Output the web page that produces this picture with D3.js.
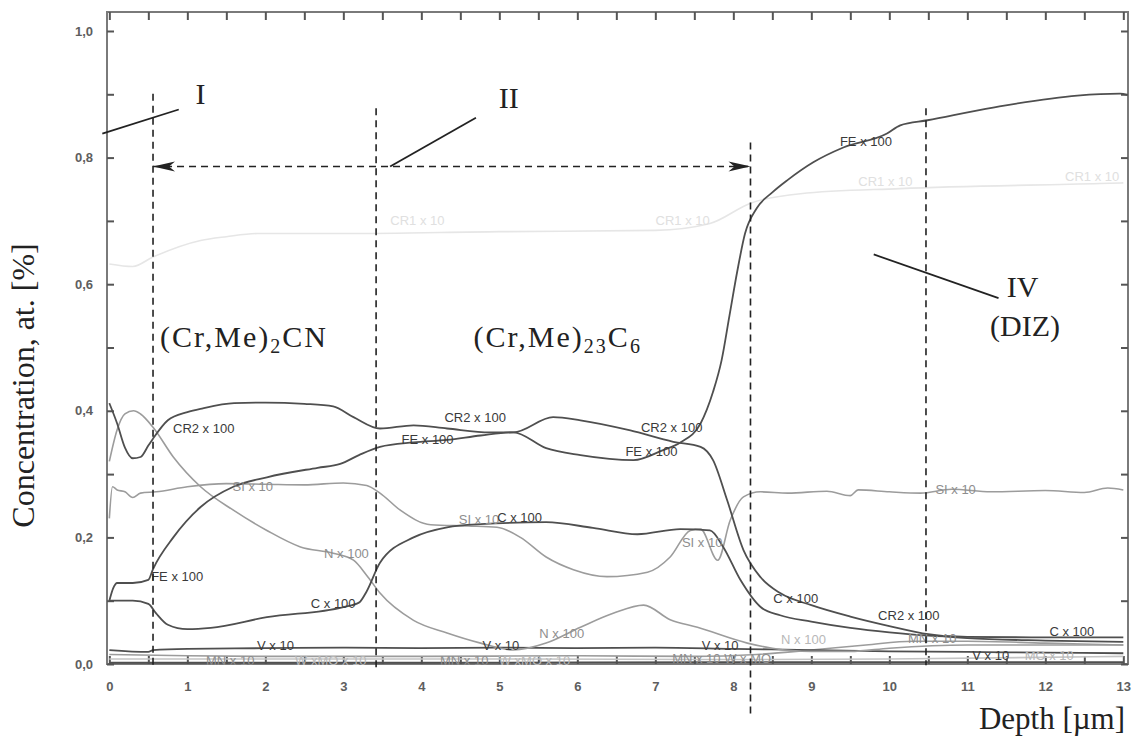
<!DOCTYPE html>
<html><head><meta charset="utf-8">
<script src="https://cdn.jsdelivr.net/npm/d3@7"></script>
<style>
body{margin:0;background:#fff;}
svg{display:block;}
</style></head>
<body>
<svg id="chart" width="1139" height="740"></svg>
<script>
// ---------- data (depth in µm, concentration) ----------
const xTicksLabels = ["0","1","2","3","4","5","6","7","8","9","10","11","12","13"];
const yTickLabels = ["0,0","0,2","0,4","0,6","0,8","1,0"];

const cr2 = [[0,0.412],[0.1,0.38],[0.2,0.342],[0.3,0.325],[0.4,0.327],[0.5,0.345],[0.56,0.356],[0.75,0.385],[1.0,0.398],[1.2,0.404],[1.6,0.412],[2.0,0.413],[2.5,0.411],[2.87,0.407],[3.13,0.39],[3.47,0.372],[3.9,0.377],[4.33,0.372],[4.88,0.366],[5.18,0.366],[5.69,0.39],[6.04,0.385],[6.68,0.369],[7.23,0.351],[7.58,0.343],[7.74,0.322],[7.92,0.259],[8.13,0.18],[8.35,0.137],[8.6,0.112],[9.0,0.093],[9.5,0.075],[10.0,0.06],[10.5,0.047],[11.0,0.041],[12.0,0.037],[13.0,0.035]];
const fe = [[0,0.1],[0.05,0.12],[0.1,0.128],[0.3,0.128],[0.5,0.133],[0.56,0.15],[0.82,0.2],[1.17,0.248],[1.59,0.28],[2.02,0.295],[2.67,0.31],[2.96,0.316],[3.2,0.33],[3.47,0.343],[3.9,0.35],[4.33,0.354],[4.76,0.361],[5.18,0.366],[5.6,0.341],[6.04,0.33],[6.72,0.322],[7.1,0.338],[7.32,0.35],[7.58,0.38],[7.74,0.43],[7.85,0.48],[7.95,0.55],[8.05,0.62],[8.15,0.68],[8.3,0.72],[8.5,0.745],[8.69,0.764],[9.03,0.793],[9.41,0.816],[9.97,0.838],[10.14,0.851],[10.49,0.859],[11.33,0.879],[12.41,0.898],[12.96,0.901],[13.05,0.899]];
const carbon = [[0,0.1],[0.3,0.1],[0.5,0.095],[0.6,0.08],[0.75,0.062],[1.0,0.055],[1.3,0.057],[2.02,0.074],[3.0,0.09],[3.2,0.097],[3.3,0.115],[3.47,0.16],[3.9,0.2],[4.33,0.216],[4.76,0.221],[5.6,0.224],[6.2,0.215],[6.77,0.205],[7.32,0.213],[7.7,0.211],[7.87,0.185],[8.09,0.133],[8.35,0.09],[8.6,0.077],[9.0,0.067],[9.5,0.057],[10.0,0.05],[10.5,0.045],[11.0,0.043],[12.0,0.042],[13.0,0.042]];
const si = [[0,0.23],[0.04,0.28],[0.1,0.275],[0.2,0.272],[0.3,0.263],[0.4,0.27],[0.6,0.272],[1.0,0.28],[1.5,0.285],[2.0,0.284],[2.5,0.283],[3.0,0.286],[3.3,0.282],[3.47,0.27],[3.73,0.243],[4.12,0.22],[4.6,0.218],[4.97,0.216],[5.27,0.2],[5.6,0.169],[5.95,0.149],[6.38,0.138],[6.9,0.145],[7.19,0.169],[7.45,0.211],[7.58,0.213],[7.8,0.164],[7.96,0.227],[8.13,0.264],[8.35,0.272],[8.7,0.27],[9.2,0.273],[9.5,0.266],[9.6,0.275],[10.0,0.272],[10.4,0.27],[10.8,0.276],[11.3,0.272],[12.0,0.274],[12.5,0.271],[12.8,0.278],[13.0,0.275]];
const nitrogen = [[0,0.32],[0.1,0.37],[0.2,0.395],[0.31,0.4],[0.4,0.395],[0.56,0.374],[0.82,0.327],[1.17,0.28],[1.59,0.243],[2.02,0.211],[2.45,0.185],[2.87,0.175],[3.13,0.164],[3.3,0.14],[3.47,0.112],[3.9,0.069],[4.33,0.049],[4.76,0.033],[5.18,0.022],[5.6,0.033],[6.04,0.058],[6.46,0.08],[6.85,0.093],[7.19,0.07],[7.54,0.058],[8.18,0.033],[8.5,0.025],[9.0,0.02],[9.5,0.02],[10.0,0.025],[11.0,0.03],[12.0,0.03],[13.0,0.03]];
const cr1 = [[0,0.632],[0.3,0.628],[0.56,0.643],[1.17,0.669],[1.5,0.675],[1.9,0.68],[3.0,0.68],[5.0,0.683],[7.0,0.685],[7.7,0.696],[8.22,0.728],[8.86,0.743],[10.14,0.751],[12.7,0.759],[13.0,0.76]];
const vanadium = [[0,0.022],[0.5,0.019],[0.56,0.022],[1.0,0.024],[2.0,0.025],[3.0,0.026],[4.0,0.025],[5.0,0.026],[6.0,0.025],[7.0,0.026],[8.0,0.024],[9.0,0.022],[10.0,0.02],[11.0,0.019],[12.0,0.018],[13.0,0.017]];
const manganese = [[0,0.015],[1.0,0.013],[2.0,0.012],[4.0,0.012],[6.0,0.013],[7.5,0.012],[8.3,0.015],[9.0,0.022],[9.7,0.03],[10.3,0.036],[11.0,0.036],[12.0,0.033],[13.0,0.03]];
const wmo = [[0,0.008],[2.0,0.008],[5.0,0.008],[8.0,0.007],[10.0,0.008],[13.0,0.012]];
const baseLine = [[0,0.002],[4.0,0.002],[8.0,0.003],[13.0,0.003]];

const seriesList = [
  {name:"CR1 x 10", pts:cr1, tone:"faint"},
  {name:"W x MO x 10", pts:wmo, tone:"light"},
  {name:"MN x 10", pts:manganese, tone:"mid"},
  {name:"base", pts:baseLine, tone:"dark"},
  {name:"V x 10", pts:vanadium, tone:"dark"},
  {name:"N x 100", pts:nitrogen, tone:"mid"},
  {name:"SI x 10", pts:si, tone:"mid"},
  {name:"C x 100", pts:carbon, tone:"dark"},
  {name:"FE x 100", pts:fe, tone:"dark"},
  {name:"CR2 x 100", pts:cr2, tone:"dark"}
];

// curve labels: [text, depth, concentration, tone]
const curveLabels = [
  ["CR2 x 100",1.21,0.372,"dark"],["SI x 10",1.84,0.281,"mid"],["FE x 100",0.87,0.138,"dark"],
  ["N x 100",3.04,0.174,"mid"],["C x 100",2.87,0.095,"dark"],["V x 10",2.13,0.03,"dark"],
  ["MN x 10",1.55,0.006,"mid"],["W xMO x 10",2.84,0.006,"light"],
  ["CR2 x 100",4.69,0.39,"dark"],["FE x 100",4.08,0.355,"dark"],["SI x 10",4.74,0.228,"mid"],
  ["C x 100",5.26,0.232,"dark"],["N x 100",5.8,0.048,"mid"],["V x 10",5.02,0.03,"dark"],
  ["MN x 10",4.55,0.006,"mid"],["W xMO x 10",5.45,0.006,"light"],
  ["CR2 x 100",7.21,0.374,"dark"],["FE x 100",6.95,0.336,"dark"],["SI x 10",7.6,0.192,"mid"],
  ["V x 10",7.83,0.03,"dark"],["MN x 10 W x MO",7.85,0.009,"mid"],
  ["C x 100",8.8,0.104,"dark"],["FE x 100",9.7,0.826,"dark"],["SI x 10",10.85,0.275,"mid"],
  ["CR2 x 100",10.25,0.076,"dark"],["N x 100",8.9,0.038,"light"],["MN x 10",10.55,0.04,"mid"],
  ["C x 100",12.34,0.051,"dark"],["V x 10",11.3,0.013,"dark"],["MO x 10",12.05,0.013,"light"],
  ["CR1 x 10",3.95,0.7,"faint"],["CR1 x 10",7.35,0.7,"faint"],["CR1 x 10",9.95,0.762,"faint"],["CR1 x 10",12.6,0.77,"faint"]
];

// zone annotations (depth, concentration)
const zoneLines = [[0.56,0.901,-0.009],[3.42,0.878,-0.009],[8.22,0.824,-0.085],[10.47,0.878,-0.002]];
const arrowSpan = [0.56,8.22,0.786];

// ---------- drawing ----------
const svg = d3.select("#chart");
const x = d3.scaleLinear().domain([-0.03,13.06]).range([107,1128]);
const y = d3.scaleLinear().domain([0,1.03]).range([664,12]);
const tone = {dark:"#4f4f4f", mid:"#9c9c9c", light:"#c4c4c4", faint:"#e6e6e6"};
const labelTone = {dark:"#3a3a3a", mid:"#8e8e8e", light:"#b8b8b8", faint:"#e0e0e0"};

// frame
svg.append("rect").attr("x",x(-0.03)).attr("y",y(1.03)).attr("width",x(13.06)-x(-0.03)).attr("height",y(0)-y(1.03))
  .attr("fill","none").attr("stroke","#7a7a7a").attr("stroke-width",2);

const yAxisL = d3.axisLeft(y).tickValues(d3.range(0,11).map(i=>i/10)).tickSize(-7).tickPadding(14)
  .tickFormat(d => Math.round(d*10)%2===0 ? yTickLabels[Math.round(d*5)] : "");
const yAxisR = d3.axisRight(y).tickValues(d3.range(0,11).map(i=>i/10)).tickSize(-7).tickFormat("");
const xAxisB = d3.axisBottom(x).tickValues(d3.range(0,27).map(i=>i/2)).tickSize(-8).tickPadding(18)
  .tickFormat(d => Number.isInteger(d) ? xTicksLabels[d] : "");
const xAxisT = d3.axisTop(x).tickValues(d3.range(0,27).map(i=>i/2)).tickSize(-8).tickFormat("");

function styleAxis(g){
  g.select(".domain").remove();
  g.selectAll("line").attr("stroke","#555").attr("stroke-width",2);
  g.selectAll("text").attr("fill","#5e5e5e").style("font-family","Liberation Sans, Arial, sans-serif")
    .style("font-size","13px").style("font-weight","bold");
}
svg.append("g").attr("transform",`translate(${x(-0.03)},0)`).call(yAxisL).call(styleAxis);
svg.append("g").attr("transform",`translate(${x(13.06)},0)`).call(yAxisR).call(styleAxis);
svg.append("g").attr("transform",`translate(0,${y(0)})`).call(xAxisB).call(styleAxis);
svg.append("g").attr("transform",`translate(0,${y(1.03)})`).call(xAxisT).call(styleAxis);

// series
const line = d3.line().x(d=>x(d[0])).y(d=>y(d[1])).curve(d3.curveMonotoneX);
svg.append("g").selectAll("path").data(seriesList).join("path")
  .attr("d",d=>line(d.pts)).attr("fill","none")
  .attr("stroke",d=>tone[d.tone]).attr("stroke-width",d=>d.tone==="dark"?1.8:1.6)
  .attr("stroke-linejoin","round");

// curve labels
svg.append("g").selectAll("text").data(curveLabels).join("text")
  .attr("x",d=>x(d[1])).attr("y",d=>y(d[2])).attr("text-anchor","middle").attr("dy","0.35em")
  .attr("fill",d=>labelTone[d[3]])
  .style("font-family","Liberation Sans, Arial, sans-serif").style("font-size","13px")
  .text(d=>d[0]);

// zone dashed lines
const ann = svg.append("g");
ann.selectAll("line.zone").data(zoneLines).join("line").attr("class","zone")
  .attr("x1",d=>x(d[0])).attr("x2",d=>x(d[0])).attr("y1",d=>y(d[1])).attr("y2",d=>y(d[2]))
  .attr("stroke","#222").attr("stroke-width",1.6).attr("stroke-dasharray","7,5");

// arrow markers
const defs = svg.append("defs");
["end","start"].forEach(k=>{
  defs.append("marker").attr("id","arr-"+k).attr("viewBox","0 -6 22 12").attr("refX",k==="end"?22:0).attr("refY",0)
    .attr("markerWidth",22).attr("markerHeight",12).attr("markerUnits","userSpaceOnUse").attr("orient","auto")
    .append("path").attr("d",k==="end"?"M0,-5 L22,0 L0,5 L6,0 Z":"M22,-5 L0,0 L22,5 L16,0 Z").attr("fill","#222");
});
ann.append("line").attr("x1",x(arrowSpan[0])).attr("x2",x(arrowSpan[1])).attr("y1",y(arrowSpan[2])).attr("y2",y(arrowSpan[2]))
  .attr("stroke","#222").attr("stroke-width",1.6).attr("stroke-dasharray","7,5")
  .attr("marker-start","url(#arr-start)").attr("marker-end","url(#arr-end)");

// leader lines [x1,y1,x2,y2] in data units
const leaders = [[-0.09,0.838,0.89,0.876],[3.6,0.786,4.7,0.863],[9.8,0.647,11.4,0.578]];
ann.selectAll("line.lead").data(leaders).join("line").attr("class","lead")
  .attr("x1",d=>x(d[0])).attr("y1",d=>y(d[1])).attr("x2",d=>x(d[2])).attr("y2",d=>y(d[3]))
  .attr("stroke","#222").attr("stroke-width",1.8);

const serif = "Liberation Serif, Times New Roman, serif";
const bigText = [["I",1.17,0.885],["II",5.12,0.878],["IV",11.71,0.58],["(DIZ)",11.74,0.518]];
ann.selectAll("text.big").data(bigText).join("text").attr("class","big")
  .attr("x",d=>x(d[1])).attr("y",d=>y(d[2])).attr("text-anchor","middle")
  .attr("fill","#222").style("font-family",serif).style("font-size","30px").text(d=>d[0]);

function phase(parts, xd, yd){
  const t = ann.append("text").attr("x",x(xd)).attr("y",y(yd)).attr("fill","#222")
    .style("font-family",serif).style("font-size","30px").style("letter-spacing","2px");
  parts.forEach(p=>{
    const s = t.append("tspan").text(p[0]);
    if(p[1]) s.style("font-size","20px").attr("dy",6); else s.attr("dy",p[2]||0);
  });
}
phase([["(Cr,Me)"],["2",true],["CN",false,-6]],0.65,0.5);
phase([["(Cr,Me)"],["23",true],["C",false,-6],["6",true]],4.67,0.5);

// axis titles
svg.append("text").attr("transform",`translate(34,${y(0.44)}) rotate(-90)`).attr("text-anchor","middle")
  .attr("fill","#222").style("font-family",serif).style("font-size","32px").text("Concentration, at. [%]");
svg.append("text").attr("x",1052).attr("y",729).attr("text-anchor","middle")
  .attr("fill","#222").style("font-family",serif).style("font-size","31px").text("Depth [µm]");
</script>
</body></html>
